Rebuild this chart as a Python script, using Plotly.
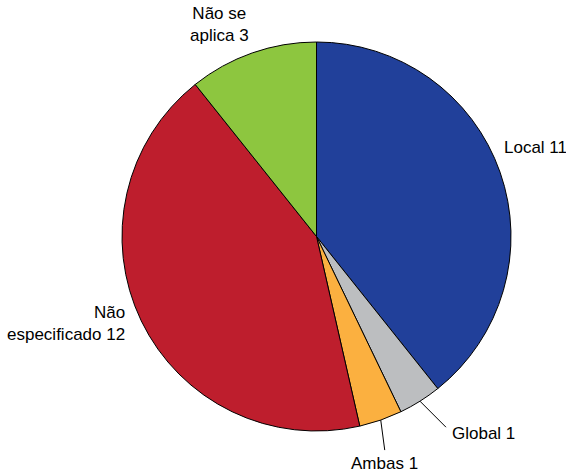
import math
import plotly.graph_objects as go

# Survey categories and counts, clockwise from 12 o'clock
labels = ["Local", "Global", "Ambas", "Não especificado", "Não se aplica"]
values = [11, 1, 1, 12, 3]
label_text = ["Local 11", "Global 1", "Ambas 1", "Não<br>especificado 12", "Não se<br>aplica 3"]
colors = ["#21409A", "#BCBEC0", "#FBB040", "#BE1E2D", "#8DC63F"]

W, H = 566, 472
CX, CY, R = 316.5, 236.5, 194.5  # pie centre and radius in pixels

# Label placement: (dx, dy) pixel offset from the slice's rim midpoint,
# anchors, and whether a leader line is drawn to the offset point.
placement = {
    "Local": (2, -25, "left", "middle", False),
    "Global": (26, 26, "left", "top", True),
    "Ambas": (4, 30, "center", "top", True),
    "Não especificado": (-14, 3, "right", "middle", False),
    "Não se aplica": (-33, -28, "center", "middle", False),
}


def px_to_paper(x, y):
    return x / W, 1 - y / H


fig = go.Figure(
    go.Pie(
        labels=labels,
        values=values,
        sort=False,
        direction="clockwise",
        rotation=0,
        textinfo="none",
        marker=dict(colors=colors, line=dict(color="#000000", width=1)),
        domain=dict(
            x=[(CX - R) / W, (CX + R) / W],
            y=[(H - CY - R) / H, (H - CY + R) / H],
        ),
        showlegend=False,
    )
)

total = sum(values)
cum = 0
annotations = []
shapes = []
for lab, val, txt in zip(labels, values, label_text):
    mid = (cum + val / 2) / total * 2 * math.pi
    cum += val
    rx = CX + R * math.sin(mid)
    ry = CY - R * math.cos(mid)
    dx, dy, xa, ya, leader = placement[lab]
    tx, ty = rx + dx, ry + dy
    if leader:
        x0, y0 = px_to_paper(rx, ry)
        x1, y1 = px_to_paper(tx, ty)
        shapes.append(dict(type="line", xref="paper", yref="paper",
                           x0=x0, y0=y0, x1=x1, y1=y1,
                           line=dict(color="#000000", width=1)))
        if xa == "left":
            tx += 4
            ty -= 5
        else:
            ty += 2
    ax, ay = px_to_paper(tx, ty)
    annotations.append(dict(
        x=ax, y=ay, xref="paper", yref="paper", text=txt, showarrow=False,
        xanchor=xa, yanchor=ya, align="right" if xa == "right" else "center",
        font=dict(size=17, color="#000000"),
    ))

fig.update_layout(
    width=W, height=H,
    margin=dict(l=0, r=0, t=0, b=0),
    paper_bgcolor="#FFFFFF",
    plot_bgcolor="#FFFFFF",
    font=dict(family="Liberation Sans, Arial, sans-serif"),
    annotations=annotations,
    shapes=shapes,
)

fig.write_html("out.html")
